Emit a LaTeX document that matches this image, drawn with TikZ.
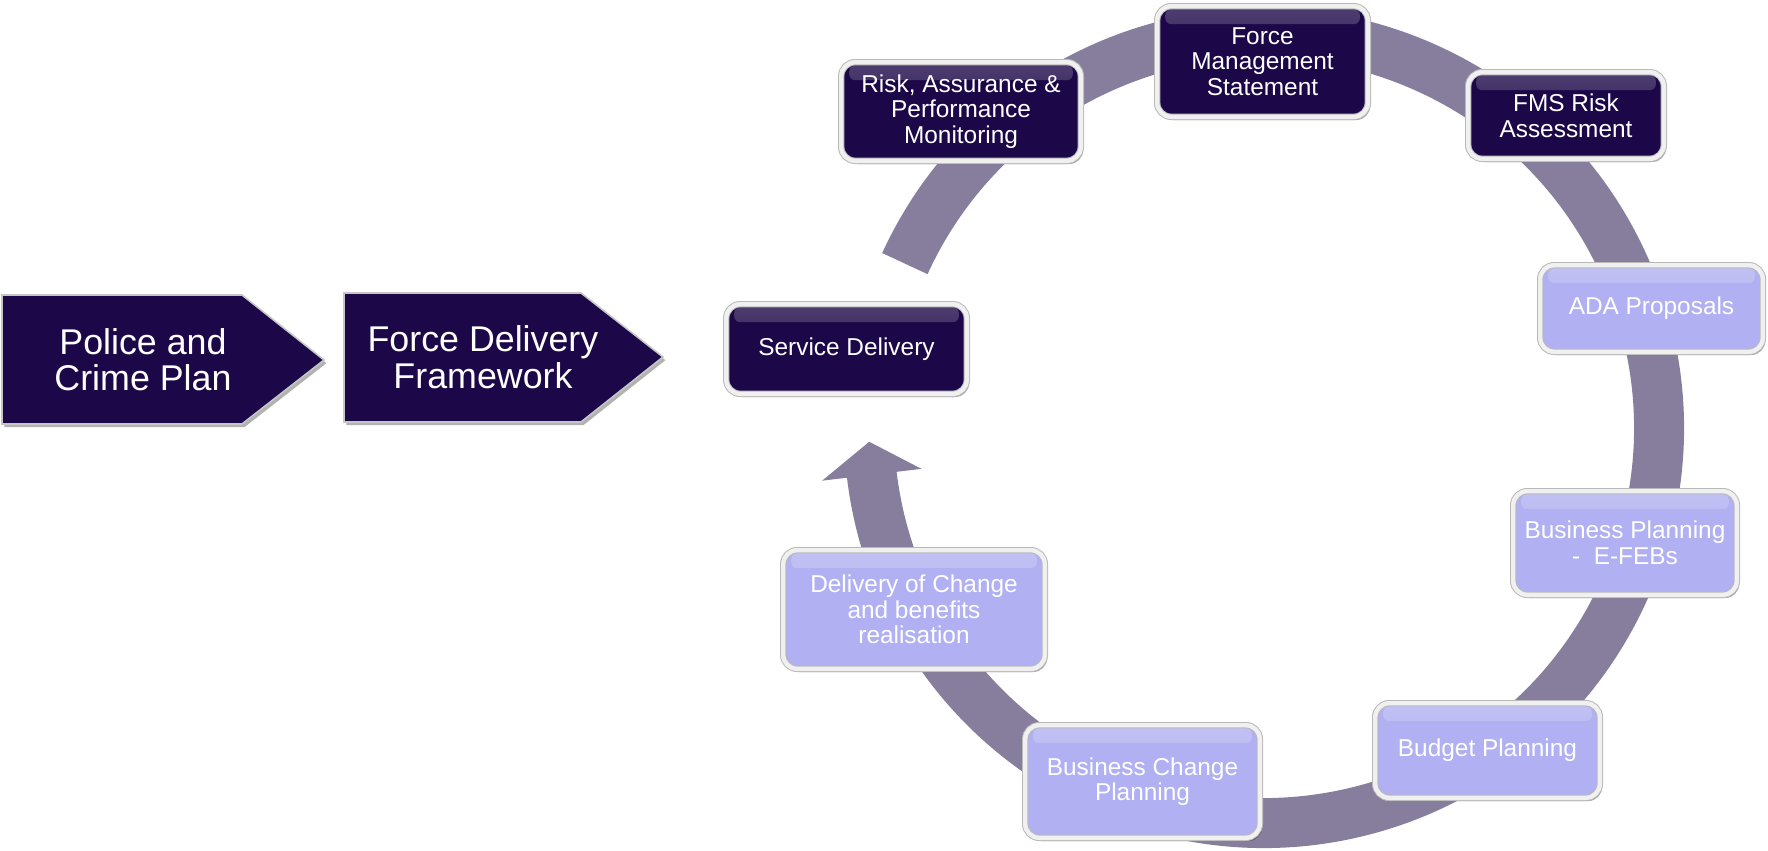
\documentclass[tikz,border=0pt]{standalone}
\usepackage{fontspec}
\setmainfont{Liberation Sans}
\usetikzlibrary{shadows,fadings}
\definecolor{darkfill}{RGB}{28,8,72}
\definecolor{lightfill}{RGB}{176,176,242}
\definecolor{ringcol}{RGB}{135,125,157}
\newcommand{\boxfont}{\fontsize{12.2}{12.8}\selectfont}
\newcommand{\chevfont}{\fontsize{17.9}{18.2}\selectfont}
\begin{document}
\begin{tikzpicture}[x=0.5pt,y=0.5pt,
  boxbase/.style={rounded corners=7pt, align=center, text=white, font=\boxfont,
    inner sep=2pt, draw=gray!55, double=white!88!gray, double distance=2.2pt,
    line width=0.5pt,
    drop shadow={shadow xshift=1.2pt, shadow yshift=-1.6pt, opacity=0.35, fill=black},
    path picture={\fill[white,opacity=0.22,path fading=south, rounded corners=3pt]
      ([xshift=4pt,yshift=-1.5pt]path picture bounding box.north west) rectangle
      ([xshift=-4pt,yshift=-9pt]path picture bounding box.north east);}},
  darkbox/.style={boxbase, fill=darkfill},
  lightbox/.style={boxbase, fill=lightfill},
  chevshape/.style={fill=darkfill, draw=gray!45, line width=0.8pt,
    drop shadow={shadow xshift=1.2pt, shadow yshift=-1.6pt, opacity=0.3, fill=black}},
  chevtext/.style={align=center, text=white, font=\chevfont, inner sep=0pt},
  ringline/.style={draw=ringcol, line width=25pt},
  ringhead/.style={fill=ringcol}
]
\useasboundingbox (0,0) rectangle (1768,-851);

% ring
\coordinate (C) at (1264,-428);
\path[ringline] ([shift={(155.4:395)}]C) arc[start angle=155.4, end angle=-173.4, radius=395];
\path[ringhead] ([shift={(-173.2:345)}]C) -- ([shift={(-173.2:445)}]C) -- ([shift={(182:395)}]C) -- cycle;

% chevrons
\path[chevshape] (2,-295) -- (242,-295) -- (324,-360) -- (242,-424) -- (2,-424) -- cycle;
\node[chevtext] (pcp) at (143,-360) {Police and\\Crime Plan};
\path[chevshape] (344,-293) -- (581,-293) -- (663,-357) -- (581,-422) -- (344,-422) -- cycle;
\node[chevtext] (fdf) at (483,-357) {Force Delivery\\Framework};

% boxes
\node[darkbox, minimum width=120.3pt, minimum height=44.8pt] (sd) at (846.5,-349) {Service Delivery};
\node[darkbox, minimum width=119.8pt, minimum height=49.3pt] (rapm) at (961,-111.5) {Risk, Assurance \&\\Performance\\Monitoring};
\node[darkbox, minimum width=105.3pt, minimum height=55.3pt] (fms) at (1262.5,-61.5) {Force\\Management\\Statement};
\node[darkbox, minimum width=97.8pt, minimum height=43.3pt] (fmsra) at (1566,-115.5) {FMS Risk\\Assessment};
\node[lightbox, minimum width=111.3pt, minimum height=43.3pt] (ada) at (1651.5,-308.5) {ADA Proposals};
\node[lightbox, minimum width=111.8pt, minimum height=51.8pt] (bpe) at (1625,-543) {Business Planning\\- \ E-FEBs};
\node[lightbox, minimum width=112.3pt, minimum height=47.3pt] (budget) at (1487.5,-750.5) {Budget Planning};
\node[lightbox, minimum width=117.3pt, minimum height=56.3pt] (bcp) at (1142.5,-781.5) {Business Change\\Planning};
\node[lightbox, minimum width=130.8pt, minimum height=59.3pt] (doc) at (914,-609.5) {Delivery of Change\\and benefits\\realisation};
\end{tikzpicture}
\end{document}
